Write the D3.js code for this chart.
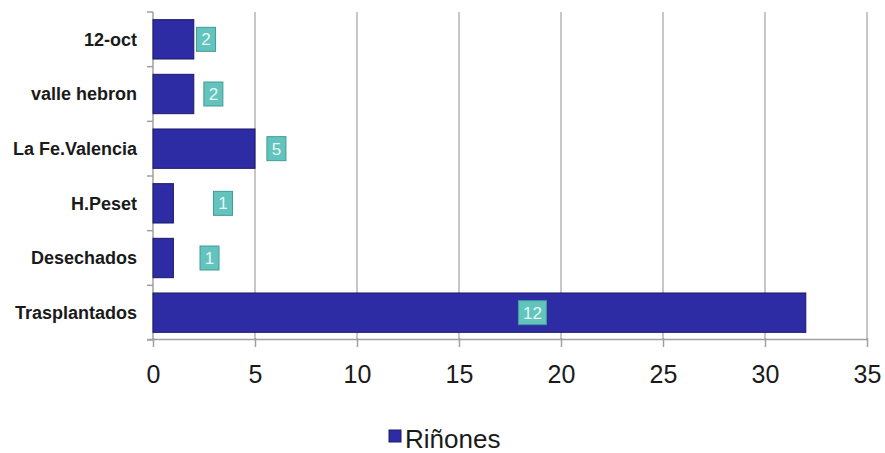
<!DOCTYPE html>
<html><head><meta charset="utf-8">
<script src="https://cdn.jsdelivr.net/npm/d3@7"></script>
<style>body{margin:0;background:#fff}svg{display:block}</style>
</head><body>
<svg id="c" width="885" height="453"></svg>
<script>
const categories = ["12-oct","valle hebron","La Fe.Valencia","H.Peset","Desechados","Trasplantados"];
const values = [2,2,5,1,1,32];
const labelTexts = ["2","2","5","1","1","12"];
const labelAt = [2.6,2.96,6.05,3.43,2.77,18.6];
const xTicks = [0,5,10,15,20,25,30,35];
const seriesName = "Riñones";

const svg = d3.select("#c");
const x = d3.scaleLinear().domain([0,35]).range([153,867]);
const y = d3.scaleBand().domain(categories).range([12,340]).paddingInner(0.28).paddingOuter(0.14);

// gridlines
svg.append("g").selectAll("line").data(xTicks.filter(d=>d>0)).join("line")
  .attr("x1",d=>x(d)).attr("x2",d=>x(d)).attr("y1",12).attr("y2",340)
  .attr("stroke","#b4b4b4").attr("stroke-width",1.5);

// y axis line and ticks
svg.append("line").attr("x1",x(0)).attr("x2",x(0)).attr("y1",12).attr("y2",340)
  .attr("stroke","#a0a0a0").attr("stroke-width",1.5);
const step = y.step();
const bounds = d3.range(categories.length+1).map(i=>12+i*step);
svg.append("g").selectAll("line").data(bounds).join("line")
  .attr("x1",x(0)-6).attr("x2",x(0)).attr("y1",d=>d).attr("y2",d=>d)
  .attr("stroke","#a0a0a0").attr("stroke-width",1.5);

// bars
svg.append("g").selectAll("rect").data(categories).join("rect")
  .attr("x",x(0)).attr("y",d=>y(d))
  .attr("width",(d,i)=>x(values[i])-x(0)).attr("height",y.bandwidth())
  .attr("fill","#2e2ca4").attr("stroke","#1c1a6a").attr("stroke-width",1);

// category labels
svg.append("g").selectAll("text").data(categories).join("text")
  .attr("x",137).attr("y",d=>y(d)+y.bandwidth()/2).attr("dy","0.35em")
  .attr("text-anchor","end").attr("font-family","Liberation Sans, Arial, sans-serif")
  .attr("font-weight","bold").attr("font-size",18).attr("fill","#1a1a1a")
  .text(d=>d);

// x axis
const xAxis = d3.axisBottom(x).tickValues(xTicks).tickSize(8).tickFormat(d3.format("d"));
const gx = svg.append("g").attr("transform","translate(0,339)").call(xAxis);
gx.select(".domain").attr("d",`M${x(0)-6},0.5H${x(35)}`).attr("stroke","#a0a0a0").attr("stroke-width",1.5);
gx.selectAll(".tick line").attr("stroke","#a0a0a0").attr("stroke-width",1.5).attr("y1",-1);
gx.selectAll(".tick text").attr("y",44).attr("dy",0).attr("font-family","Liberation Sans, Arial, sans-serif")
  .attr("font-size",25).attr("fill","#1a1a1a");

// value labels
const lg = svg.append("g").selectAll("g").data(categories).join("g")
  .attr("transform",(d,i)=>`translate(${x(labelAt[i])},${y(d)+y.bandwidth()/2})`);
lg.append("rect").attr("x",(d,i)=>labelTexts[i].length>1?-14:-9.5).attr("y",-12)
  .attr("width",(d,i)=>labelTexts[i].length>1?28:19).attr("height",24)
  .attr("fill","#62c4bc").attr("stroke","#3e9c98").attr("stroke-width",1);
lg.append("text").attr("text-anchor","middle").attr("dy","0.36em")
  .attr("font-family","Liberation Sans, Arial, sans-serif").attr("font-size",17).attr("fill","#e8f8f6")
  .text((d,i)=>labelTexts[i]);

// legend
const leg = svg.append("g");
leg.append("rect").attr("x",389).attr("y",430).attr("width",12).attr("height",12)
  .attr("fill","#2e2ca4").attr("stroke","#1c1a6a");
leg.append("text").attr("x",405).attr("y",448).attr("font-family","Liberation Sans, Arial, sans-serif")
  .attr("font-size",26).attr("fill","#1a1a1a").text(seriesName);
</script>
</body></html>
